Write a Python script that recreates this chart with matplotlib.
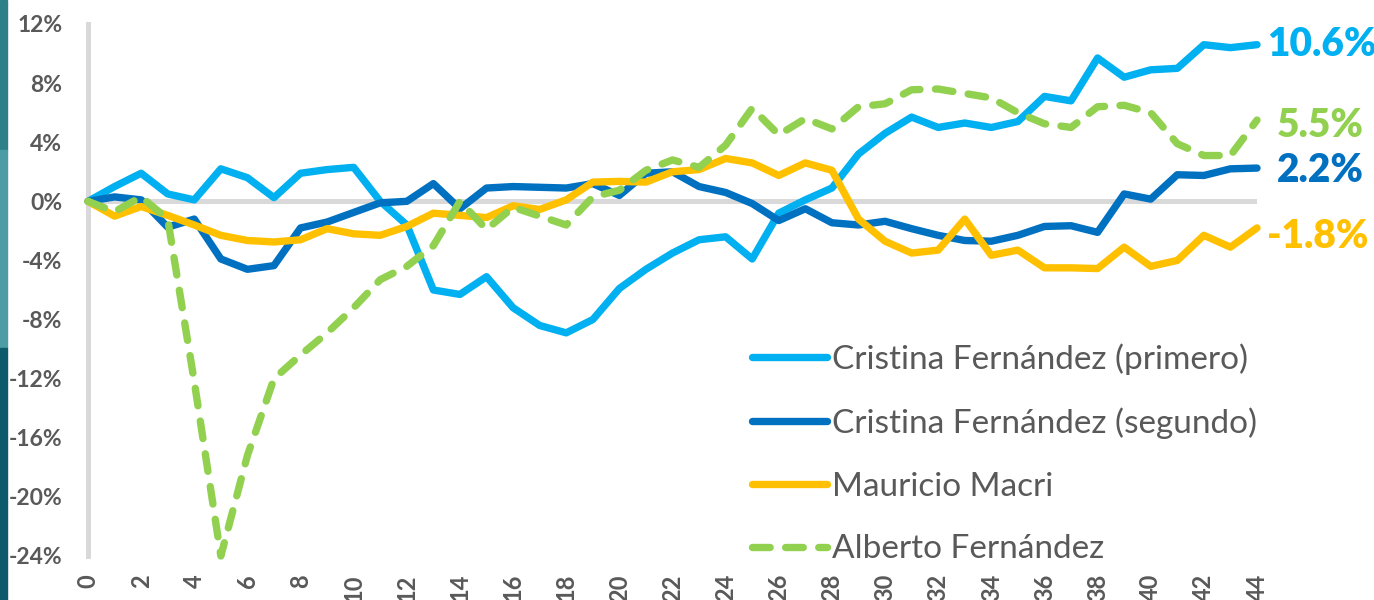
import matplotlib.pyplot as plt
from matplotlib.patches import Rectangle

# Datos: variación acumulada por mes de mandato
meses = list(range(45))
cfk_primero = [0.0, 1.0, 1.9, 0.5, 0.1, 2.2, 1.6, 0.25, 1.9, 2.15, 2.3, 0.0, -1.6, -6.0, -6.3,
               -5.1, -7.2, -8.4, -8.9, -8.0, -5.9, -4.6, -3.5, -2.6, -2.4, -3.9, -0.8, 0.1, 0.9,
               3.2, 4.6, 5.7, 5.0, 5.3, 5.0, 5.4, 7.1, 6.8, 9.7, 8.4, 8.9, 9.0, 10.6, 10.4, 10.6]
cfk_segundo = [0.0, 0.3, 0.1, -1.75, -1.2, -3.9, -4.6, -4.35, -1.8, -1.4, -0.75, -0.1, 0.0, 1.2, -0.5,
               0.9, 1.0, 0.95, 0.9, 1.2, 0.4, 1.9, 2.0, 1.0, 0.6, -0.15, -1.3, -0.5, -1.45,
               -1.6, -1.35, -1.85, -2.3, -2.65, -2.7, -2.3, -1.7, -1.65, -2.1, 0.5, 0.15, 1.8, 1.75, 2.2, 2.25]
macri = [0.0, -1.0, -0.35, -0.95, -1.6, -2.3, -2.65, -2.75, -2.6, -1.85, -2.2, -2.3, -1.7, -0.8, -0.95,
         -1.1, -0.3, -0.55, 0.1, 1.3, 1.35, 1.3, 2.0, 2.15, 2.9, 2.6, 1.75, 2.6, 2.1,
         -1.2, -2.7, -3.5, -3.3, -1.2, -3.65, -3.3, -4.5, -4.5, -4.55, -3.1, -4.4, -4.0, -2.3, -3.1, -1.8]
alberto = [0.0, -0.7, 0.3, -1.2, -12.2, -24.0, -17.2, -12.0, -10.4, -8.9, -7.2, -5.3, -4.4, -3.0, 0.0,
           -1.9, -0.4, -1.0, -1.6, 0.3, 0.75, 2.1, 2.8, 2.3, 3.8, 6.3, 4.5, 5.6, 4.9,
           6.4, 6.6, 7.55, 7.6, 7.3, 7.0, 6.0, 5.25, 5.0, 6.4, 6.5, 6.0, 3.9, 3.1, 3.1, 5.5]

nombres = ['Cristina Fernández (primero)', 'Cristina Fernández (segundo)',
           'Mauricio Macri', 'Alberto Fernández']
colores = ['#00B0F0', '#0070C0', '#FFC000', '#92D050']
etiquetas_fin = ['10.6%', '2.2%', '-1.8%', '5.5%']

GRIS = '#595959'
LINEA = '#D9D9D9'

fig = plt.figure(figsize=(13.74, 6.0), dpi=100)

# franja de fondo a la izquierda
for y0, h, c in [(0.75, 0.25, '#2e8088'), (0.42, 0.33, '#4b9ca5'), (0.0, 0.42, '#0f5a6a')]:
    fig.patches.append(Rectangle((0, y0), 7 / 1374, h, transform=fig.transFigure,
                                 color=c, zorder=0))

ax = fig.add_axes([88 / 1374, 44 / 600, 1169 / 1374, 532 / 600])

series = [cfk_primero, cfk_segundo, macri, alberto]
for serie, nombre, col in zip(series, nombres, colores):
    if nombre == 'Alberto Fernández':
        ax.plot(meses, serie, color=col, lw=5.3, linestyle=(0, (2.4, 2.1)),
                dash_capstyle='round', dash_joinstyle='round', clip_on=False, label=nombre)
    else:
        ax.plot(meses, serie, color=col, lw=5.3, solid_joinstyle='round',
                solid_capstyle='round', clip_on=False, label=nombre)

ax.axhline(0, color=LINEA, lw=3.6, zorder=0.5)

ax.set_xlim(0, 44)
ax.set_ylim(-24, 12)
ax.set_xticks(range(0, 45, 2))
ax.set_xticklabels([str(m) for m in range(0, 45, 2)], rotation=90)
yt = list(range(-24, 13, 4))
ax.set_yticks(yt)
ax.set_yticklabels([f'{v}%' for v in yt])

for s in ['top', 'right', 'bottom']:
    ax.spines[s].set_visible(False)
ax.spines['left'].set_color(LINEA)
ax.spines['left'].set_linewidth(3.6)
ax.spines['left'].set_zorder(0.5)

ax.tick_params(axis='x', length=0, pad=13, labelsize=17, labelcolor=GRIS)
ax.tick_params(axis='y', length=0, pad=18.5, labelsize=16.5, labelcolor=GRIS)
for lab in ax.get_xticklabels() + ax.get_yticklabels():
    lab.set_fontfamily('Lato')
    lab.set_fontweight('bold')

# etiquetas del último valor
pos_fin = [(10, 10.6), (20, 2.1), (10, -2.4), (20, 5.1)]
for (dx, yv), txt, col in zip(pos_fin, etiquetas_fin, colores):
    ax.annotate(txt, xy=(44, yv), xytext=(dx, 0), textcoords='offset pixels',
                ha='left', va='center', color=col, fontsize=28, fontweight='heavy',
                fontfamily='Lato', annotation_clip=False)

leg = fig.legend(loc='upper left', bbox_to_anchor=(752 / 1374, 1 - 343 / 600),
                 frameon=False, borderpad=0, borderaxespad=0,
                 handlelength=2.25, handletextpad=0.15, labelspacing=0.98,
                 prop={'family': 'Lato', 'size': 24})
for t in leg.get_texts():
    t.set_color(GRIS)

plt.savefig('out.png', dpi=100)
plt.close(fig)
